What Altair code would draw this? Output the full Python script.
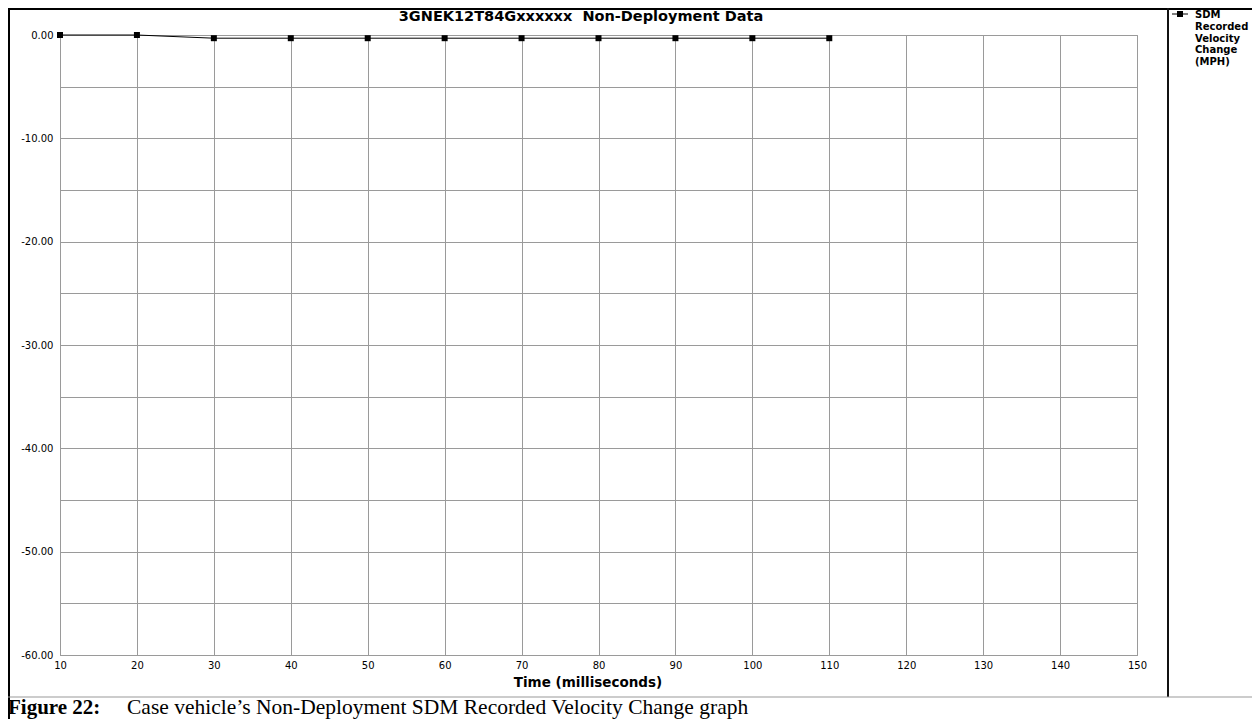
import altair as alt
import pandas as pd

# ---- data ----
time_ms = [10, 20, 30, 40, 50, 60, 70, 80, 90, 100, 110]
velocity_mph = [0.0, 0.0, -0.31, -0.31, -0.31, -0.31, -0.31, -0.31, -0.31, -0.31, -0.31]
x_ticks = list(range(10, 151, 10))
y_ticks = list(range(-60, 1, 5))
chart_title = "3GNEK12T84Gxxxxxx \u00a0Non-Deployment Data"
x_title = "Time (milliseconds)"
legend_label = "SDM\nRecorded\nVelocity\nChange\n(MPH)"
caption_bold = "Figure 22:"
caption_text = "Case vehicle\u2019s Non-Deployment SDM Recorded Velocity Change graph"

df = pd.DataFrame({"t": time_ms, "v": velocity_mph})

W, H = 1077, 620
SANS = "DejaVu Sans"
GRID = "#9a9a9a"

x_enc = alt.X("t:Q", scale=alt.Scale(domain=[10, 150], nice=False, zero=False),
              axis=alt.Axis(values=x_ticks, format="d", title=None, labelFlush=False,
                            ticks=False, labelPadding=5, labelFont=SANS, labelFontSize=10,
                            labelColor="#000", gridColor=GRID, domainColor=GRID,
                            labelOverlap=False))
y_enc = alt.Y("v:Q", scale=alt.Scale(domain=[-60, 0], nice=False, zero=False),
              axis=alt.Axis(values=y_ticks, title=None, ticks=False, labelPadding=7,
                            labelFlush=False, labelOverlap=False,
                            labelExpr="datum.value % 10 == 0 ? (datum.value < 0 ? '-' : '') + format(abs(datum.value), '.2f') : ''",
                            labelFont=SANS, labelFontSize=10, labelColor="#000",
                            gridColor=GRID, domainColor=GRID))

line = alt.Chart(df).mark_line(color="#000", strokeWidth=1).encode(x=x_enc, y=y_enc)
pts = alt.Chart(df).mark_point(shape="square", filled=True, color="#000", size=36, opacity=1).encode(x="t:Q", y="v:Q")

one = pd.DataFrame({"k": [0]})
base = alt.Chart(one)

def hrule(x1, x2, y, color="#000", w=1):
    return base.mark_rule(color=color, strokeWidth=w).encode(x=alt.value(x1), x2=alt.value(x2), y=alt.value(y))

def vrule(x, y1, y2, color="#000", w=1):
    return base.mark_rule(color=color, strokeWidth=w).encode(x=alt.value(x), y=alt.value(y1), y2=alt.value(y2))

def text(s, x, y, size, bold=False, font=SANS, align="center", baseline="middle", **kw):
    return base.mark_text(text=s, font=font, fontSize=size, fontWeight="bold" if bold else "normal",
                          align=align, baseline=baseline, color="#000", **kw).encode(
        x=alt.value(x), y=alt.value(y))

frame = [
    hrule(-52, 1196, -26, w=2),           # top border
    vrule(-51, -27, 690, w=2),            # left border
    vrule(1195, -27, 690, w=2),           # right border
    vrule(1108, -27, 662, color="#111", w=2),  # legend separator
    hrule(-52, 1196, 662, color="#999", w=1),  # line above caption
]

texts = [
    text(chart_title, 521, -18, 14.5, bold=True),
    text(x_title, 528, 648, 13.5, bold=True),
    text(legend_label, 1135, -25, 10, bold=True, align="left", baseline="top", lineBreak="\n", lineHeight=11.8),
    text(caption_bold, -52, 679, 21, bold=True, font="Liberation Serif", align="left", baseline="alphabetic"),
    text(caption_text, 67, 679, 21.5, bold=False, font="Liberation Serif", align="left", baseline="alphabetic"),
]

legend_sym = [
    hrule(1112, 1128, -21),
    base.mark_point(shape="square", filled=True, color="#000", size=36, opacity=1).encode(
        x=alt.value(1120), y=alt.value(-21)),
]

chart = alt.layer(line, pts, *frame, *texts, *legend_sym).properties(
    width=W, height=H,
    padding={"left": 52, "top": 27, "right": 115, "bottom": 64},
    autosize=alt.AutoSizeParams(type="none"),
    background="#ffffff",
).configure_view(stroke=GRID)

chart.save("out.html", embed_options={"renderer": "svg", "actions": False})
